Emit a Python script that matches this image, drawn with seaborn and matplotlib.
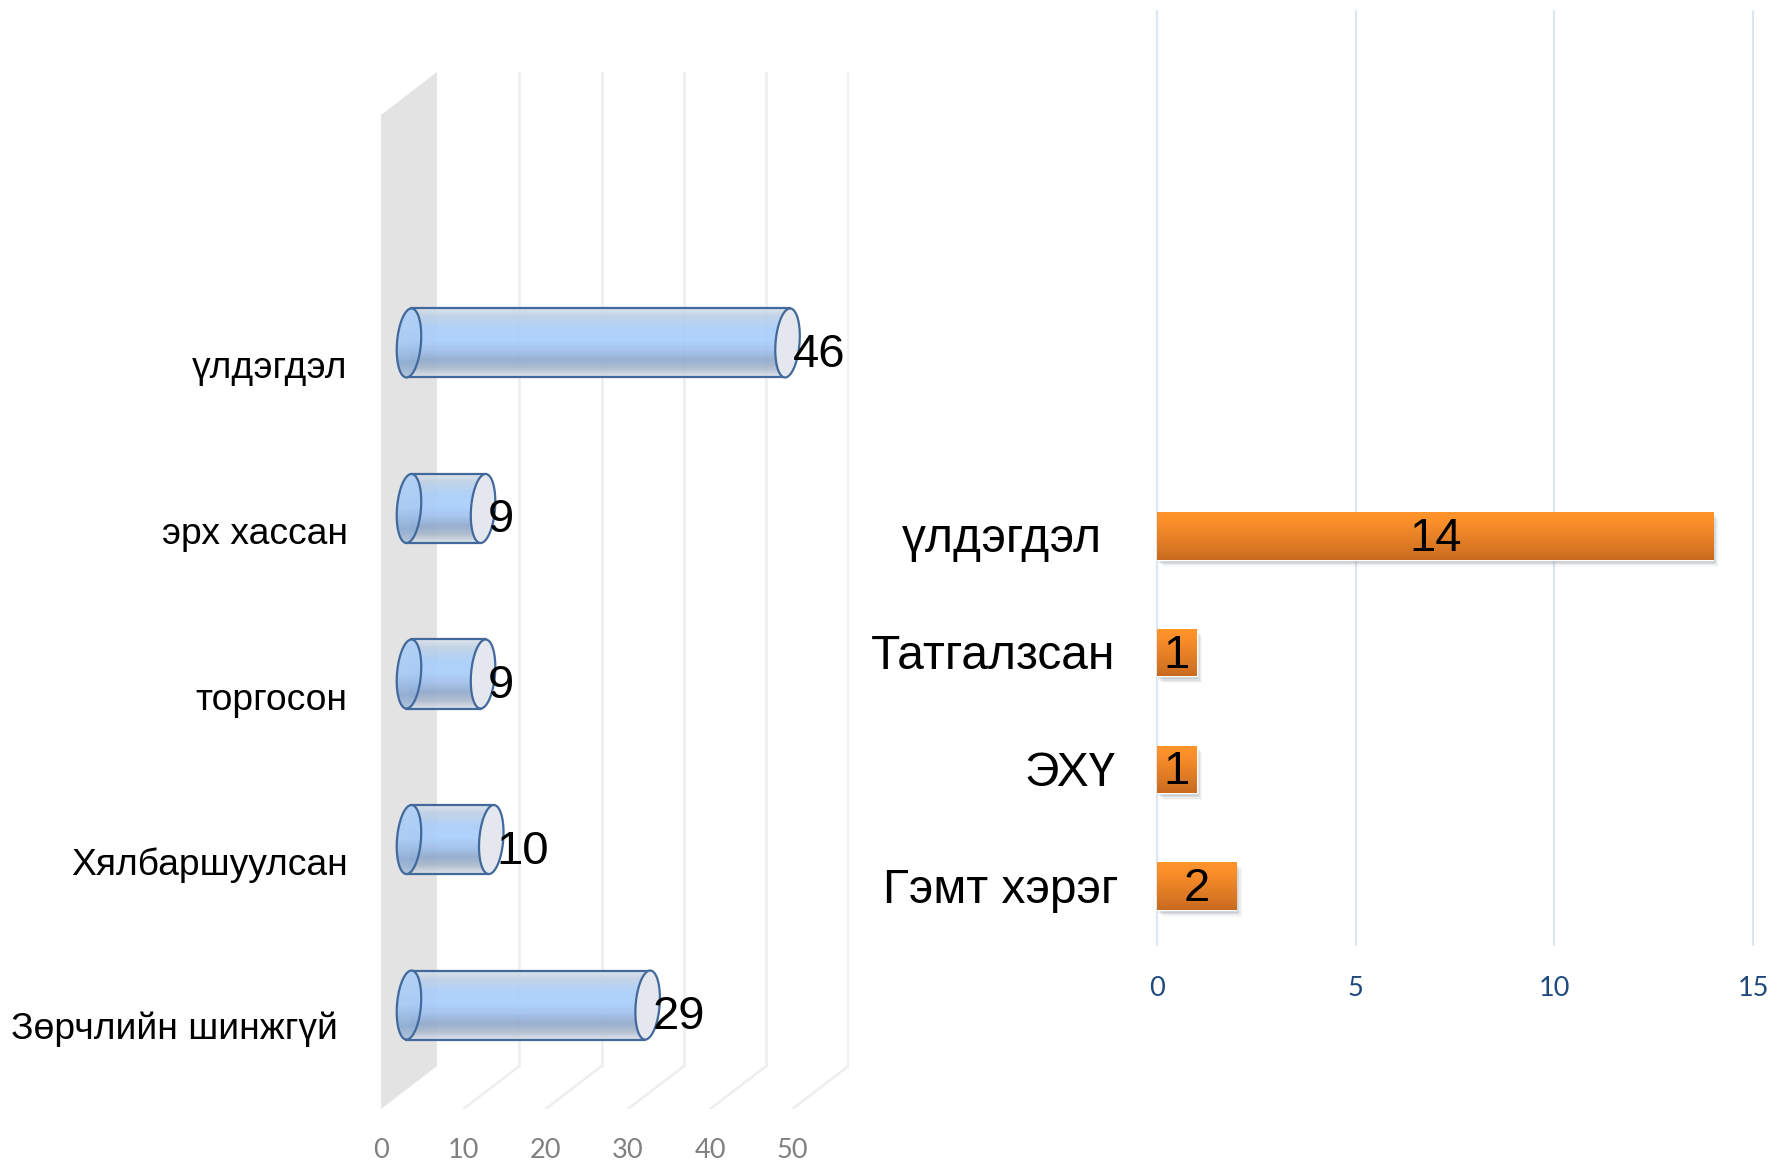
import numpy as np
import matplotlib
matplotlib.use('Agg')
import matplotlib.pyplot as plt
import matplotlib.patheffects as pe
from matplotlib.colors import LinearSegmentedColormap
from matplotlib.patches import Polygon
from matplotlib.transforms import Affine2D
import seaborn as sns

# Data, left chart
left_cats = ['үлдэгдэл', 'эрх хассан', 'торгосон', 'Хялбаршуулсан', 'Зөрчлийн шинжгүй']
left_vals = [46, 9, 9, 10, 29]
left_ticks = [0, 10, 20, 30, 40, 50]

# Data, right chart
right_cats = ['үлдэгдэл', 'Татгалзсан', 'ЭХҮ', 'Гэмт хэрэг']
right_vals = [14, 1, 1, 2]
right_ticks = [0, 5, 10, 15]

W, H = 1772, 1163
sns.set_theme(style='white')
plt.rcParams['font.family'] = ['Liberation Sans', 'DejaVu Sans']

fig = plt.figure(figsize=(W / 100, H / 100), dpi=100, facecolor='white')


def px_axes(x0, x1, y0, y1):
    return fig.add_axes([x0 / W, 1 - y1 / H, (x1 - x0) / W, (y1 - y0) / H])


def shift_label(lab, dx, dy):
    lab.set_transform(lab.get_transform() + Affine2D().translate(dx, dy))


# ---- left chart, fake 3D cylinders ----
ax1 = px_axes(381, 849, 72, 1109)
depth = 6.8      # wall depth in value units
bar_h = 0.417
sns.barplot(x=left_vals, y=left_cats, ax=ax1, width=bar_h, left=depth / 2,
            errorbar=None, color='white', saturation=1)
ax1.set_xlim(0, 56.87)
ylim1 = (4.628, -1.637)
ax1.set_ylim(*ylim1)
y_top, y_bot = ylim1[1], ylim1[0]
floor_back = 4.369   # y where the back wall meets the floor

# wall and grid
top_front = -1.377
ax1.add_patch(Polygon([(0, top_front), (depth, y_top), (depth, floor_back), (0, y_bot)],
                      closed=True, fc='#e3e3e3', ec='none', zorder=0))
for t in left_ticks[1:]:
    ax1.plot([t + depth, t + depth], [y_top, floor_back], color='#eeeeee', lw=1.8, zorder=0.5)
    ax1.plot([t, t + depth], [y_bot, floor_back], color='#eeeeee', lw=1.8, zorder=0.5)

body_cmap = LinearSegmentedColormap.from_list('body', [
    (0.0, '#dde3ea'), (0.12, '#bfd0e6'), (0.3, '#a9cdf8'), (0.47, '#a8cffd'),
    (0.62, '#a0c0ec'), (0.76, '#8fa9cc'), (0.88, '#aab9cd'), (1.0, '#dde2e9')])
cap_cmap = LinearSegmentedColormap.from_list('cap', [
    (0.0, '#b2d1f6'), (0.5, '#a9cbf4'), (0.8, '#8fadd3'), (1.0, '#afc2da')])
grad = np.linspace(0, 1, 128).reshape(-1, 1)
line_col = '#41699b'
a_units = 12 / 8.23
skew = 2.5 / 8.23


def cyl_cap(cx, cy, half_h):
    t = np.linspace(0, 2 * np.pi, 90)
    return np.column_stack([cx + a_units * np.cos(t) - skew * np.sin(t),
                            cy + half_h * np.sin(t)])


for i, (bar, v) in enumerate(zip(ax1.containers[0], left_vals)):
    bar.set_facecolor('none')
    bar.set_edgecolor('none')
    x0 = bar.get_x()
    x1 = x0 + bar.get_width()
    hh = bar_h / 2
    im = ax1.imshow(grad, cmap=body_cmap, aspect='auto', alpha=0.92, zorder=2,
                    extent=(x0, x1, i + hh, i - hh))
    im.set_clip_path(bar)
    ax1.plot([x0 + skew, x1 + skew], [i - hh, i - hh], color=line_col, lw=1.6, zorder=3)
    ax1.plot([x0 - skew, x1 - skew], [i + hh, i + hh], color=line_col, lw=1.6, zorder=3)

    # near end of the cylinder
    cap = Polygon(cyl_cap(x0, i, hh), closed=True, fc='none', ec=line_col, lw=1.6, zorder=5)
    ax1.add_patch(cap)
    im2 = ax1.imshow(grad, cmap=cap_cmap, aspect='auto', alpha=0.95, zorder=4,
                     extent=(x0 - 2, x0 + 2, i + hh, i - hh))
    im2.set_clip_path(cap)
    # far end
    ax1.add_patch(Polygon(cyl_cap(x1, i, hh), closed=True, fc='#e4e8ee', ec=line_col,
                          lw=1.6, zorder=5))
    ax1.annotate(str(v), (x1, i), xytext=(5, -12), textcoords='offset pixels',
                 ha='left', va='center', fontsize=34, color='black', zorder=6)

ax1.set_xlim(0, 56.87)
ax1.set_ylim(*ylim1)
ax1.set_xticks(left_ticks)
ax1.set_xlabel('')
ax1.set_ylabel('')
ax1.tick_params(axis='x', length=0, pad=21, labelsize=19.5, labelcolor='#808080',
                labelfontfamily='Lato')
ax1.tick_params(axis='y', length=0, pad=24, labelsize=26.8, labelcolor='black')
for lab, dx, dy in zip(ax1.get_yticklabels(), [0, 0, 0, 0, -10], [-22, -22, -22, -22, -20]):
    shift_label(lab, dx, dy)
sns.despine(ax=ax1, left=True, bottom=True)
ax1.patch.set_visible(False)

# ---- right chart, flat orange bars ----
ax2 = px_axes(1157, 1753, 11, 945)
bar_h2 = 0.407
sns.barplot(x=right_vals, y=right_cats, ax=ax2, width=bar_h2, errorbar=None,
            color='#e07f25', saturation=1)
ylim2 = (3.505, -4.499)
ax2.set_axisbelow(True)
ax2.grid(axis='x', color='#dbe6f2', lw=1.5, clip_on=False)
ax2.grid(axis='y', visible=False)

orange_cmap = LinearSegmentedColormap.from_list('orange', [
    (0.0, '#ff942b'), (0.2, '#fb8f2a'), (0.75, '#da7723'), (1.0, '#c76a1f')])
for i, bar in enumerate(ax2.containers[0]):
    bar.set_zorder(2.5)
    # stacked faint shadows stand in for the soft blur
    bar.set_path_effects([
        pe.SimplePatchShadow(offset=(4, -5), shadow_rgbFace='#5b6675', alpha=0.05),
        pe.SimplePatchShadow(offset=(3, -4), shadow_rgbFace='#5b6675', alpha=0.08),
        pe.SimplePatchShadow(offset=(2, -3), shadow_rgbFace='#5b6675', alpha=0.1),
        pe.SimplePatchShadow(offset=(1, -2), shadow_rgbFace='#5b6675', alpha=0.12),
        pe.Normal()])
    im = ax2.imshow(grad, cmap=orange_cmap, aspect='auto', zorder=3,
                    extent=(bar.get_x(), bar.get_x() + bar.get_width(),
                            i + bar_h2 / 2, i - bar_h2 / 2))
    im.set_clip_path(bar)
labs = ax2.bar_label(ax2.containers[0], label_type='center', fontsize=34, color='black')
for t in labs:
    t.set_zorder(6)
    t.xyann = (0, -2.2)

ax2.set_xlim(0, 15)
ax2.set_ylim(*ylim2)
ax2.set_xticks(right_ticks)
ax2.set_xlabel('')
ax2.set_ylabel('')
ax2.tick_params(axis='x', length=0, pad=22, labelsize=19.5, labelcolor='#1f497d',
                labelfontfamily='Lato')
ax2.tick_params(axis='y', length=0, pad=30, labelsize=34.5, labelcolor='black')
for lab, dx in zip(ax2.get_yticklabels(), [-13, 0, 0, 3]):
    shift_label(lab, dx, 1)
sns.despine(ax=ax2, left=True, bottom=True)
ax2.patch.set_visible(False)

fig.savefig('out.png', dpi=100, facecolor='white')
